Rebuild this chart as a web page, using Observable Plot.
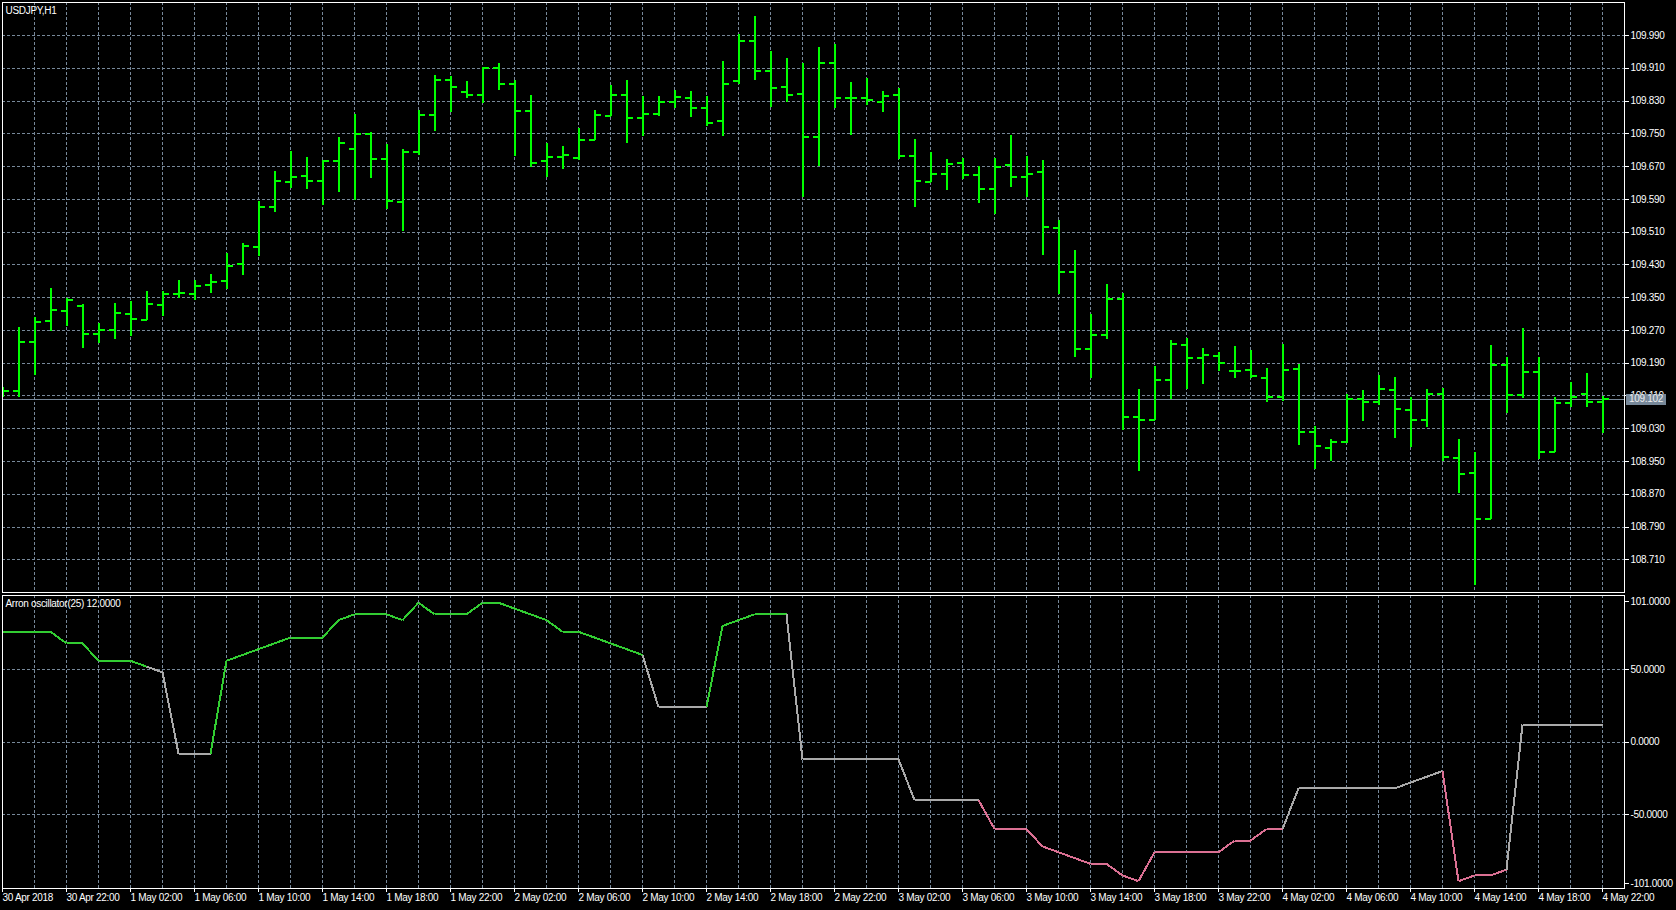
<!DOCTYPE html>
<html><head><meta charset="utf-8">
<script src="https://cdn.jsdelivr.net/npm/d3@7"></script>
<script src="https://cdn.jsdelivr.net/npm/@observablehq/plot@0.6"></script>
<style>
html,body{margin:0;padding:0;background:#000;}
#chart{width:1676px;height:910px;position:relative;overflow:hidden;background:#000;}
#chart svg{display:block;}
#chart svg text{letter-spacing:-0.3px;}
#chart svg line,#chart svg rect,#chart svg path{shape-rendering:crispEdges;}
</style></head><body><div id="chart"></div>
<script>
// ---- data (USDJPY H1, bars 30 Apr 18:00 .. 4 May 22:00) ----
const barOpen = [109.115,109.123,109.242,109.293,109.317,109.330,109.261,109.272,109.310,109.295,109.332,109.359,109.359,109.382,109.390,109.432,109.473,109.571,109.633,109.647,109.635,109.684,109.713,109.749,109.689,109.583,109.705,109.796,109.882,109.852,109.845,109.911,109.872,109.806,109.684,109.693,109.691,109.735,109.794,109.845,109.788,109.798,109.828,109.837,109.812,109.781,109.879,109.977,109.903,109.864,109.848,109.742,109.924,109.837,109.838,109.827,109.845,109.696,109.632,109.652,109.679,109.649,109.615,109.674,109.644,109.656,109.520,109.412,109.224,109.258,109.346,109.059,109.051,109.149,109.234,109.203,109.207,109.172,109.173,109.155,109.108,109.175,109.022,108.984,108.998,109.102,109.095,109.125,109.075,109.051,109.115,108.958,108.921,108.809,109.185,109.112,109.169,108.973,109.092,109.115,109.095];
const barHigh = [109.130,109.277,109.302,109.372,109.347,109.333,109.286,109.335,109.341,109.366,109.366,109.392,109.392,109.407,109.457,109.483,109.585,109.657,109.706,109.693,109.685,109.741,109.798,109.754,109.725,109.712,109.807,109.892,109.889,109.878,109.912,109.921,109.880,109.844,109.726,109.719,109.762,109.807,109.869,109.881,109.841,109.841,109.855,109.854,109.840,109.927,109.992,110.037,109.950,109.934,109.922,109.961,109.967,109.876,109.885,109.854,109.861,109.737,109.705,109.687,109.690,109.670,109.690,109.746,109.695,109.685,109.539,109.466,109.309,109.383,109.360,109.125,109.183,109.245,109.251,109.226,109.216,109.231,109.221,109.177,109.236,109.187,109.036,109.003,109.113,109.123,109.160,109.155,109.106,109.125,109.128,109.004,108.973,109.233,109.205,109.275,109.205,109.106,109.144,109.165,109.108];
const barLow = [109.105,109.106,109.160,109.268,109.280,109.227,109.237,109.249,109.254,109.293,109.304,109.347,109.344,109.360,109.371,109.405,109.451,109.559,109.617,109.615,109.574,109.606,109.588,109.640,109.564,109.512,109.698,109.755,109.801,109.835,109.824,109.855,109.694,109.668,109.644,109.663,109.686,109.734,109.792,109.726,109.743,109.792,109.813,109.790,109.768,109.743,109.870,109.879,109.815,109.826,109.594,109.670,109.811,109.747,109.820,109.801,109.688,109.569,109.630,109.611,109.638,109.581,109.554,109.618,109.594,109.452,109.358,109.205,109.153,109.248,109.026,108.926,109.051,109.101,109.126,109.139,109.169,109.153,109.153,109.095,109.097,108.990,108.930,108.949,108.995,109.048,109.087,109.005,108.983,109.034,108.951,108.873,108.646,108.808,109.066,109.104,108.956,108.973,109.083,109.083,109.019];
const barClose = [109.123,109.242,109.290,109.319,109.344,109.261,109.272,109.312,109.298,109.334,109.359,109.361,109.379,109.388,109.427,109.477,109.571,109.636,109.644,109.635,109.684,109.727,109.749,109.689,109.586,109.705,109.796,109.882,109.864,109.845,109.911,109.872,109.806,109.679,109.693,109.698,109.735,109.796,109.845,109.788,109.798,109.828,109.840,109.812,109.776,109.872,109.977,109.903,109.862,109.845,109.742,109.924,109.837,109.837,109.832,109.842,109.696,109.635,109.652,109.676,109.649,109.615,109.669,109.644,109.652,109.522,109.412,109.224,109.258,109.346,109.059,109.051,109.149,109.236,109.203,109.210,109.191,109.171,109.158,109.108,109.173,109.022,108.987,108.998,109.102,109.095,109.126,109.078,109.051,109.115,108.960,108.919,108.809,109.185,109.112,109.169,108.972,109.092,109.108,109.095,109.102];
const aroonOsc = [76,76,76,76,68,68,56,56,56,52,48,-8,-8,-8,56,60,64,68,72,72,72,84,88,88,88,84,96,88,88,88,96,96,92,88,84,76,76,72,68,64,60,24,24,24,24,80,84,88,88,88,-12,-12,-12,-12,-12,-12,-12,-40,-40,-40,-40,-40,-60,-60,-60,-72,-76,-80,-84,-84,-92,-96,-76,-76,-76,-76,-76,-68,-68,-60,-60,-32,-32,-32,-32,-32,-32,-32,-28,-24,-20,-96,-92,-92,-88,12,12,12,12,12,12];
const priceTicks = [108.710,108.790,108.870,108.950,109.030,109.110,109.190,109.270,109.350,109.430,109.510,109.590,109.670,109.750,109.830,109.910,109.990];
const oscTicks = [50, 0, -50];
const oscLimits = [101, -101];
const labelBars = [0,4,8,12,16,20,24,28,32,36,40,44,48,52,56,60,64,68,72,76,80,84,88,92,96,100];
const labelText = ["30 Apr 2018","30 Apr 22:00","1 May 02:00","1 May 06:00","1 May 10:00","1 May 14:00","1 May 18:00","1 May 22:00","2 May 02:00","2 May 06:00","2 May 10:00","2 May 14:00","2 May 18:00","2 May 22:00","3 May 02:00","3 May 06:00","3 May 10:00","3 May 14:00","3 May 18:00","3 May 22:00","4 May 02:00","4 May 06:00","4 May 10:00","4 May 14:00","4 May 18:00","4 May 22:00"];
const symbolTitle = "USDJPY,H1";
const oscTitle = "Arron oscillator(25) 12.0000";

// ---- derived tables ----
const bars = barOpen.map((o, i) => ({i, open: o, high: barHigh[i], low: barLow[i], close: barClose[i]}));
const lastClose = barClose[barClose.length - 1];
const segs = aroonOsc.slice(1).map((v, k) => ({x1: k, y1: aroonOsc[k], x2: k + 1, y2: v, v}));
const gridBars = d3.range(2, bars.length, 2);
const labelMap = new Map(labelBars.map((b, k) => [b, labelText[k]]));
const segColor = d => d.v > 50 ? "#32cd32" : d.v < -50 ? "#db7093" : "#a9a9a9";

const FONT = "'Liberation Sans', Arial, sans-serif";
const GRID = {stroke: "#778899", strokeDasharray: "3,2", strokeWidth: 1};
const GREEN = "#00ff00";
const XDOM = [0, 101.375];
const style = {background: "#000", color: "#fff", fontFamily: FONT, fontSize: "10px", overflow: "visible"};

const pricePlot = Plot.plot({
  width: 1676, height: 594,
  marginLeft: 2, marginRight: 52, marginTop: 2, marginBottom: 2,
  style,
  x: {domain: XDOM, axis: null},
  y: {domain: [108.6301, 110.0706], axis: null},
  marks: [
    Plot.ruleY(priceTicks, GRID),
    Plot.ruleX(gridBars, GRID),
    Plot.ruleY([lastClose], {stroke: "#778899", strokeWidth: 1}),
    Plot.ruleX(bars, {x: "i", y1: "low", y2: "high", stroke: GREEN, strokeWidth: 2, clip: true}),
    Plot.link(bars, {x1: d => d.i - 0.375, x2: "i", y1: "open", y2: "open", stroke: GREEN, strokeWidth: 2, clip: true}),
    Plot.link(bars, {x1: "i", x2: d => d.i + 0.375, y1: "close", y2: "close", stroke: GREEN, strokeWidth: 2, clip: true}),
    Plot.frame({stroke: "#fff"}),
    Plot.axisY(priceTicks, {anchor: "right", tickSize: 4, tickPadding: 2, tickFormat: d3.format(".3f"), stroke: "#fff", fill: "#fff"}),
    (index, scales, values, dims) => {
      const y = scales.y(lastClose);
      const x0 = dims.width - dims.marginRight;
      const g = d3.create("svg:g");
      g.append("rect").attr("x", x0 + 2).attr("y", Math.round(y) - 5)
        .attr("width", 40).attr("height", 11).attr("fill", "#778899");
      g.append("text").attr("x", x0 + 5).attr("y", y).attr("dy", "0.35em")
        .attr("text-anchor", "start").attr("fill", "#eeeeee")
        .attr("font-family", FONT).attr("font-size", 10).text(d3.format(".3f")(lastClose));
      return g.node();
    },
    Plot.text([symbolTitle], {frameAnchor: "top-left", dx: 3, dy: 4, fill: "#fff", fontSize: 10})
  ]
});

const oscPlot = Plot.plot({
  width: 1676, height: 316,
  marginLeft: 2, marginRight: 52, marginTop: 1, marginBottom: 22,
  style,
  x: {domain: XDOM, axis: null},
  y: {domain: [-101, 101], axis: null},
  marks: [
    Plot.ruleY(oscTicks, GRID),
    Plot.ruleX(gridBars, GRID),
    Plot.link(segs, {x1: "x1", y1: "y1", x2: "x2", y2: "y2", stroke: segColor, strokeWidth: 2}),
    Plot.frame({stroke: "#fff"}),
    Plot.axisY(oscTicks, {anchor: "right", tickSize: 4, tickPadding: 2, tickFormat: d => d.toFixed(4), stroke: "#fff", fill: "#fff"}),
    Plot.axisY([oscLimits[0]], {anchor: "right", tickSize: 4, tickPadding: 2, tickFormat: d => d.toFixed(4), stroke: "#fff", fill: "#fff", dy: 6}),
    Plot.axisY([oscLimits[1]], {anchor: "right", tickSize: 4, tickPadding: 2, tickFormat: d => d.toFixed(4), stroke: "#fff", fill: "#fff", dy: -5}),
    Plot.axisX(labelBars, {anchor: "bottom", tickSize: 4, tickPadding: 1, tickFormat: d => labelMap.get(d), textAnchor: "start", stroke: "#fff", fill: "#fff"}),
    Plot.text([oscTitle], {frameAnchor: "top-left", dx: 3, dy: 4, fill: "#fff", fontSize: 10})
  ]
});

const root = document.getElementById("chart");
root.append(pricePlot, oscPlot);
</script></body></html>
